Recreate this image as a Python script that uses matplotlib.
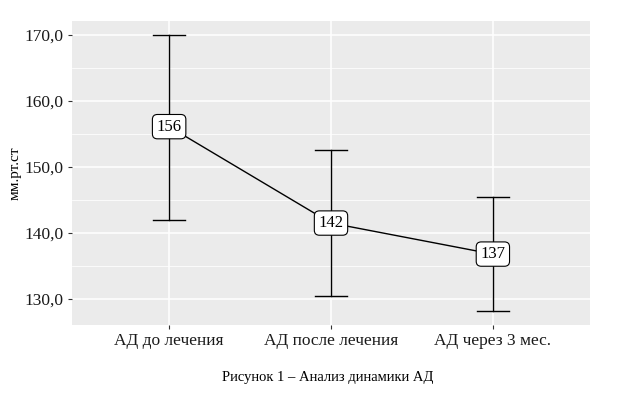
import matplotlib.pyplot as plt
from matplotlib.ticker import FuncFormatter, MultipleLocator

plt.rcParams['font.family'] = ['Liberation Serif', 'DejaVu Serif']

# data
groups = ["АД до лечения", "АД после лечения", "АД через 3 мес."]
means = [156.1, 141.5, 136.8]
labels = ["156", "142", "137"]
upper = [170.0, 152.6, 145.5]
lower = [142.0, 130.5, 128.2]

x = [1, 2, 3]

fig = plt.figure(figsize=(6.17, 3.98), dpi=100)
ax = fig.add_axes([72 / 617, 1 - 325 / 398, (590 - 72) / 617, (325 - 21) / 398])
ax.set_facecolor("#EBEBEB")
for s in ax.spines.values():
    s.set_visible(False)

ax.set_xlim(0.4, 3.6)
ax.set_ylim(126.06, 172.1)
ax.yaxis.set_major_locator(MultipleLocator(10))
ax.yaxis.set_minor_locator(MultipleLocator(5))
ax.yaxis.set_major_formatter(FuncFormatter(lambda v, p: ("%.1f" % v).replace(".", ",")))
ax.grid(which="major", color="white", linewidth=1.1)
ax.grid(which="minor", axis="y", color="white", linewidth=0.55)
ax.set_axisbelow(True)
ax.set_xticks(x)
ax.set_xticklabels(groups)
ax.tick_params(axis="both", which="major", length=3, width=0.8, color="#333333",
               labelsize=12.5, labelcolor="#1a1a1a", pad=3)
ax.tick_params(axis="y", which="minor", length=0)

# error bars
for i in range(len(x)):
    ax.plot([x[i], x[i]], [lower[i], upper[i]], color="black", linewidth=1, zorder=2)
    ax.plot([x[i] - 0.1, x[i] + 0.1], [upper[i], upper[i]], color="black", linewidth=1, zorder=2)
    ax.plot([x[i] - 0.1, x[i] + 0.1], [lower[i], lower[i]], color="black", linewidth=1, zorder=2)

ax.plot(x, means, color="black", linewidth=1, zorder=3)

for i in range(len(x)):
    ax.text(x[i], means[i], labels[i], ha="center", va="center", fontsize=12, zorder=4,
            bbox=dict(boxstyle="round,pad=0.25,rounding_size=0.3", fc="white", ec="black", lw=0.8))

ax.set_ylabel("мм.рт.ст", fontsize=11, labelpad=2)

fig.text(328 / 617, 1 - 377 / 398, "Рисунок 1 – Анализ динамики АД", ha="center", va="center", fontsize=10.5)

fig.savefig("out.png", dpi=100)
